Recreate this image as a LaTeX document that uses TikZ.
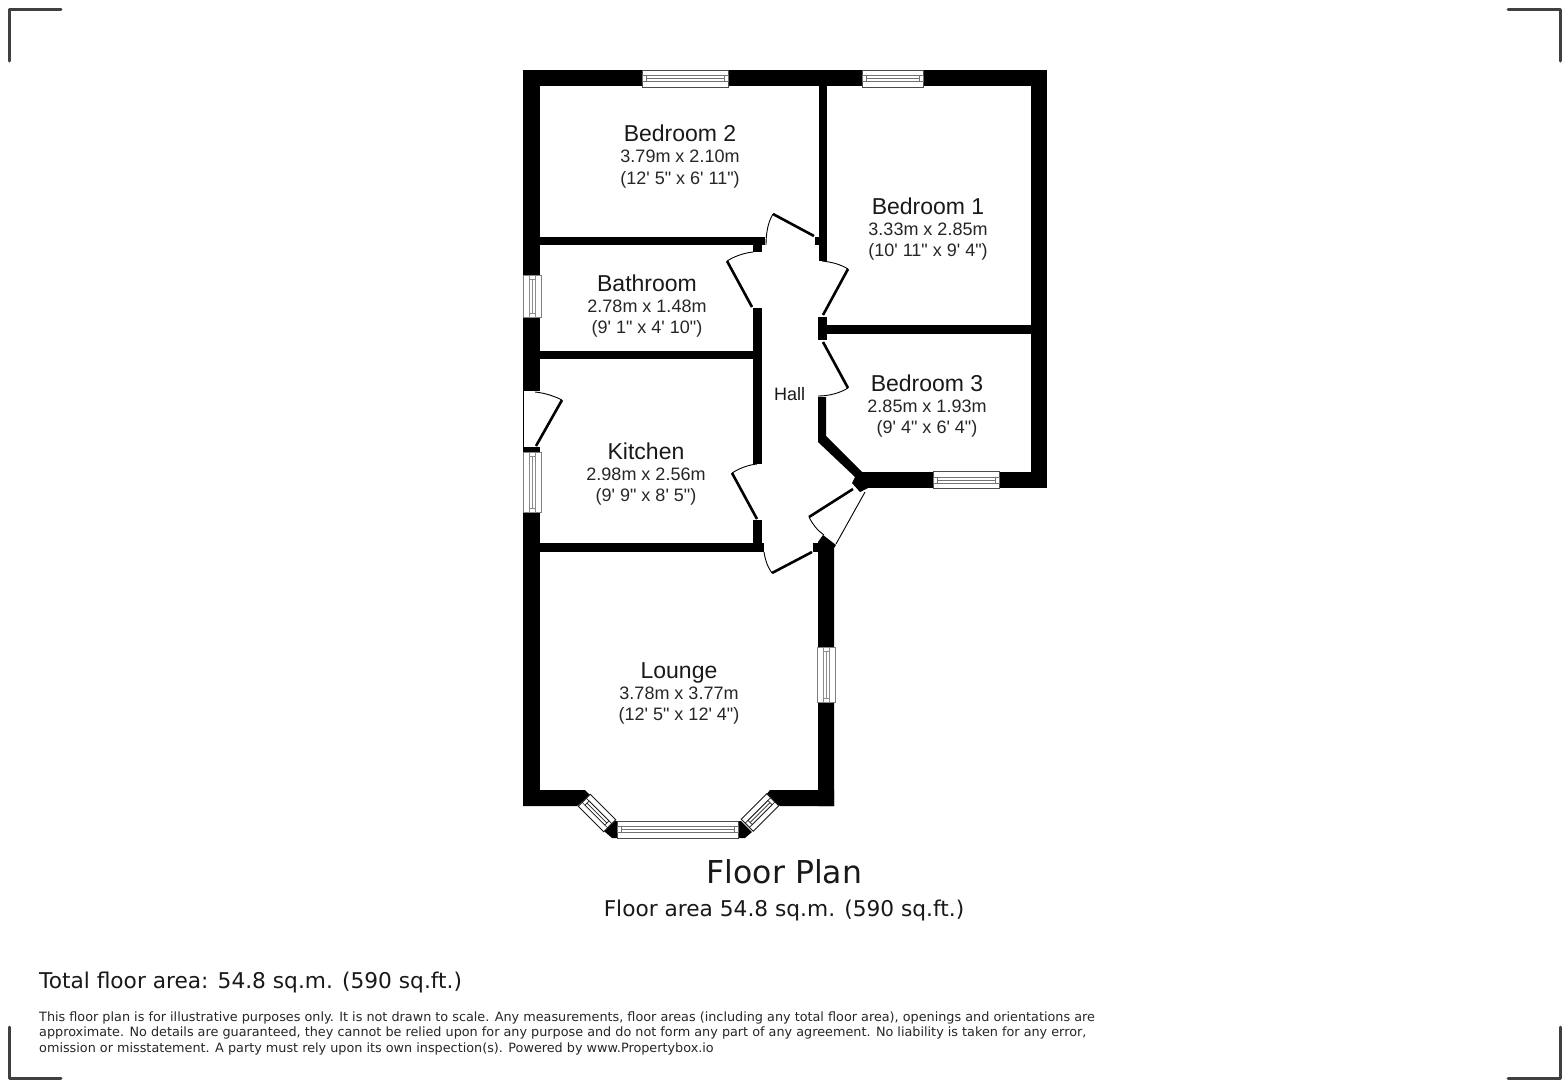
\documentclass[tikz,border=0pt]{standalone}
\usepackage{fontspec}
\newfontfamily\arialf{Liberation Sans}
\newfontfamily\verd{DejaVu Sans}
\colorlet{wout}{black!70}
\colorlet{win}{black!55}
\newcommand{\win}[5]{% cx cy len wid angle
 \begin{scope}[shift={(#1,#2)},rotate=-#5]
  \fill[white] (-#3/2,-#4/2) rectangle (#3/2,#4/2);
  \draw[winout] (-#3/2,-#4/2) rectangle (#3/2,#4/2);
  \draw[winin] (-#3/2,-3) rectangle (#3/2,3);
  \draw[winin] (-#3/2+4,-3) rectangle (#3/2-4,3);
  \draw[winin] (-#3/2+4,0) -- (#3/2-4,0);
 \end{scope}}
\newcommand{\room}[5]{%
 \node[roomname,anchor=base] (#1n) at (#2,#3+8) {#4};
 \node[roomdim,align=center,anchor=base] (#1d) at (#2,#3+50.5) {#5};}
\tikzset{
 winout/.style={draw=wout,line width=0.9pt},
 winin/.style={draw=win,line width=0.7pt},
 wallfill/.style={fill=black,draw=none},
 leaf/.style={draw=black,line width=2.6pt,line cap=butt},
 swing/.style={draw=black,line width=0.9pt},
 cornermark/.style={draw=black!75,line width=3pt,line cap=round,line join=round},
 roomname/.style={font=\arialf\fontsize{23}{27}\selectfont,text=black!90,inner sep=0pt},
 roomdim/.style={font=\arialf\fontsize{18}{21}\selectfont,text=black!85,inner sep=0pt},
}
\begin{document}
\begin{tikzpicture}[x=1pt,y=-1pt]
\useasboundingbox (0,0) rectangle (1568,1088);
\fill[white] (0,0) rectangle (1568,1088);
% corner marks
\draw[cornermark] (9.5,61) -- (9.5,9.5) -- (61,9.5);
\draw[cornermark] (1508,9.5) -- (1560,9.5) -- (1560,61);
\draw[cornermark] (9.5,1027) -- (9.5,1078) -- (61,1078);
\draw[cornermark] (1508,1078) -- (1560,1078) -- (1560,1027);
% outer walls
\fill[wallfill] (523,70) rectangle (1047,86);
\fill[wallfill] (523,70) rectangle (540,391);
\fill[wallfill] (523,447) rectangle (540,806);
\fill[wallfill] (1031,70) rectangle (1047,488);
\fill[wallfill] (860,472) rectangle (1047,488);
% hall diagonal wall
\fill[wallfill] (818,397) -- (826,397) -- (826,436) -- (862,472) -- (868,488) -- (860,492) -- (852,483) -- (855,477) -- (818,442) -- cycle;
% lower right wall
\fill[wallfill] (818,542) -- (823,535) -- (836,545) -- (834,548) -- (834,806) -- (818,806) -- cycle;
\fill[wallfill] (813,543) rectangle (819,552);
% lounge bottom
\fill[wallfill] (523,790) -- (585,790) -- (590,795) -- (577,806) -- (523,806) -- cycle;
\fill[wallfill] (770,790) -- (834,790) -- (834,806) -- (780,806) -- (766,795) -- cycle;
% bay corner blocks
\fill[wallfill] (615,821) -- (618,821) -- (618,838) -- (612,838) -- (604,831) -- cycle;
\fill[wallfill] (738,821) -- (741,821) -- (752,832) -- (745,838) -- (738,838) -- cycle;
% interior walls
\fill[wallfill] (818.5,86) rectangle (827,261);
\fill[wallfill] (815,237) rectangle (819,245);
\fill[wallfill] (540,237) rectangle (765,245);
\fill[wallfill] (753,237) rectangle (762,252);
\fill[wallfill] (753,308) rectangle (762,464);
\fill[wallfill] (753,520) rectangle (762,552);
\fill[wallfill] (540,543) rectangle (764,552);
\fill[wallfill] (540,351) rectangle (753,359);
\fill[wallfill] (818,325) rectangle (1031,334);
\fill[wallfill] (818,317) rectangle (827,340);
% windows
\win{685}{78.5}{86}{17}{0}
\win{892.5}{78.5}{61}{17}{0}
\win{966}{480}{66}{17}{0}
\win{678}{829.5}{121}{17}{0}
\colorlet{wout}{black!50}
\colorlet{win}{black!45}
\win{532}{296}{42}{18}{90}
\win{532}{482}{60}{18}{90}
\win{826}{674.5}{55}{18}{90}
\colorlet{wout}{black!90}
\colorlet{win}{black!85}
\win{597}{813}{36}{17}{45}
\win{760}{812.5}{36}{17}{-45}
% doors
\draw[leaf] (814,236) -- (773,214);
\draw[swing] (773,214) .. controls (768,222) and (766,233) .. (766,245);
\draw[leaf] (727,261) -- (752,307);
\draw[swing] (727,261) .. controls (735,256) and (744,253) .. (753,252);
\draw[leaf] (848,269) -- (823,315);
\draw[swing] (848,269) .. controls (840,264) and (831,262) .. (822,261);
\draw[leaf] (823,342) -- (848,388);
\draw[swing] (848,388) .. controls (840,393) and (829,396) .. (818,396);
\draw[leaf] (732,473) -- (757,519);
\draw[swing] (732,473) .. controls (740,468) and (748,465) .. (757,464);
\draw[leaf] (812,552) -- (772,573);
\draw[swing] (772,573) .. controls (767,566) and (765,559) .. (764,552);
\draw[leaf] (853,489) -- (809,517);
\draw[swing] (809,517) .. controls (813,525) and (818,531) .. (824,535);
\draw[swing] (836,544) -- (865,492);
\draw[swing] (523.5,391) -- (523.5,447);
\draw[leaf] (536,446) -- (562,400);
\draw[swing] (535,392) .. controls (545,393) and (554,396) .. (562,400);
% room labels
\room{bedtwo}{680}{133.5}{Bedroom 2}{3.79m x 2.10m\\[0.5pt](12' 5" x 6' 11")}
\room{bedone}{928}{206}{Bedroom 1}{3.33m x 2.85m\\[0.5pt](10' 11" x 9' 4")}
\room{bath}{647}{283}{Bathroom}{2.78m x 1.48m\\[0.5pt](9' 1" x 4' 10")}
\room{kit}{646}{451}{Kitchen}{2.98m x 2.56m\\[0.5pt](9' 9" x 8' 5")}
\room{bedthree}{927}{383}{Bedroom 3}{2.85m x 1.93m\\[0.5pt](9' 4" x 6' 4")}
\room{lounge}{679}{670}{Lounge}{3.78m x 3.77m\\[0.5pt](12' 5" x 12' 4")}
\node[font=\arialf\fontsize{18}{21}\selectfont,text=black!90] (hall) at (789.5,394) {Hall};
% titles
\node[font=\verd\fontsize{31.5}{36}\selectfont,text=black!90] (title) at (784.5,872) {Floor Plan};
\node[font=\verd\fontsize{21.7}{25}\selectfont,text=black!90] (area) at (784,910) {Floor area 54.8 sq.m. (590 sq.ft.)};
\node[font=\verd\fontsize{21.7}{25}\selectfont,text=black!90,anchor=west,inner sep=0pt] (total) at (39,982) {Total floor area: 54.8 sq.m. (590 sq.ft.)};
\node[font=\verd\fontsize{12.8}{15.5}\selectfont,text=black!85,anchor=north west,inner sep=0pt,align=left] (note) at (39,1011.5) {This floor plan is for illustrative purposes only. It is not drawn to scale. Any measurements, floor areas (including any total floor area), openings and orientations are\\approximate. No details are guaranteed, they cannot be relied upon for any purpose and do not form any part of any agreement. No liability is taken for any error,\\omission or misstatement. A party must rely upon its own inspection(s). Powered by www.Propertybox.io};
\end{tikzpicture}
\end{document}
